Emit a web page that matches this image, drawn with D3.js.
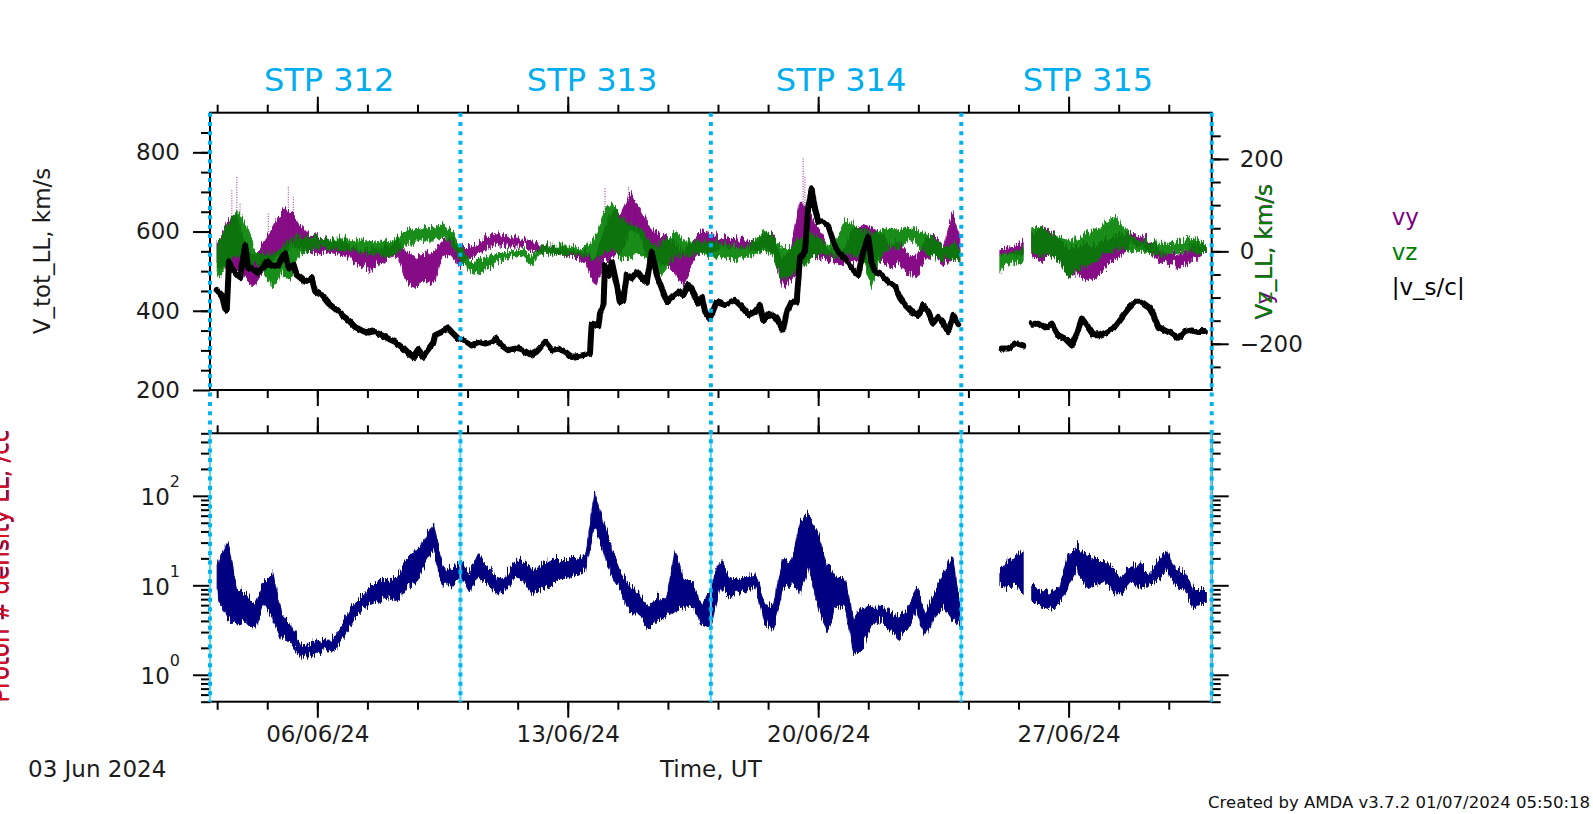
<!DOCTYPE html>
<html><head><meta charset="utf-8">
<script src="https://cdn.jsdelivr.net/npm/d3@7"></script>
<style>
html,body{margin:0;padding:0;background:#fff;}
svg{display:block;}
text{font-family:"DejaVu Sans",sans-serif;}
</style></head><body>
<svg id="c" width="1593" height="814"></svg>
<script>
// ---------------- DATA (days since 03 Jun 2024 00:00 UT) ----------------
const stpLabels = ["STP 312","STP 313","STP 314","STP 315"];
const stpLabelDay = [3.33, 10.68, 17.64, 24.54];
const stpBounds = [0, 7, 14, 21, 28];

// |v_s/c| (left axis, km/s), null = data gap
const vAbsT = [0.19,0.33,0.42,0.47,0.53,0.61,0.75,0.84,0.98,1.07,1.16,1.35,1.49,1.58,1.72,1.91,2.10,2.19,2.33,2.42,
 2.66,2.84,2.94,3.12,3.31,3.49,3.68,3.87,4.05,4.24,4.43,4.61,4.80,4.99,5.17,5.36,5.55,5.68,5.82,5.96,
 6.10,6.24,6.29,6.48,6.66,6.80,6.94,7.18,7.32,7.50,7.69,7.87,8.01,8.15,8.34,8.53,8.71,8.95,9.13,9.37,
 9.55,9.74,9.93,10.11,10.39,10.62,10.67,10.86,10.90,11.00,11.04,11.14,11.23,11.37,11.46,11.56,11.65,11.79,11.93,12.07,
 12.21,12.35,12.49,12.63,12.77,12.91,13.09,13.23,13.37,13.51,13.65,13.75,13.84,13.98,14.16,14.39,14.67,14.86,15.05,15.23,
 15.37,15.46,15.65,15.84,16.02,16.12,16.26,16.40,16.49,16.63,16.72,16.82,16.91,17.00,17.14,17.28,17.42,17.56,17.75,17.93,
 18.12,18.26,18.40,18.49,18.59,18.77,18.96,19.15,19.29,19.43,19.61,19.80,19.94,20.08,20.22,20.36,20.50,20.64,20.78,20.92,
 21.5,22.13,22.31,22.55,22.73,22.85,22.97,23.15,23.34,23.53,23.71,23.90,24.09,24.23,24.37,24.51,24.69,24.88,25.07,25.25,
 25.39,25.53,25.67,25.86,26.04,26.23,26.37,26.51,26.69,26.88,27.07,27.26,27.44,27.63,27.81];
const vAbs = [455,442,408,404,527,510,493,485,569,510,510,497,510,527,514,518,548,510,518,493,
 476,485,451,442,421,408,392,379,362,353,345,349,341,332,324,311,294,283,303,286,
 303,320,341,349,358,345,332,324,315,324,320,324,332,315,303,307,303,290,299,324,
 303,307,299,286,290,294,370,366,396,417,518,493,527,468,425,430,493,485,501,485,
 476,552,493,459,425,438,451,442,468,447,421,438,400,383,425,417,430,413,392,400,
 417,379,396,383,353,400,425,425,535,552,662,709,662,628,628,616,578,552,535,510,
 493,552,590,527,501,493,476,463,434,417,400,392,417,400,370,387,370,349,392,366,
 null,307,307,320,315,null,370,370,358,370,341,332,315,345,383,366,341,341,349,358,
 375,392,408,425,425,413,392,362,353,345,332,349,353,349,349];

// vy, vz (right axis, km/s) and proton density (/cc): envelope of the dense point cloud
const bandT = [0.2,0.25,0.5,0.75,1.0,1.25,1.5,1.75,2.0,2.25,
 2.5,2.75,3.0,3.25,3.5,3.75,4.0,4.25,4.5,4.75,
 5.0,5.25,5.5,5.75,6.0,6.25,6.5,6.75,7.0,7.25,
 7.5,7.75,8.0,8.25,8.5,8.75,9.0,9.25,9.5,9.75,
 10.0,10.25,10.5,10.75,11.0,11.25,11.5,11.75,12.0,12.25,
 12.5,12.75,13.0,13.25,13.5,13.75,14.0,14.25,14.5,14.75,
 15.0,15.25,15.5,15.75,16.0,16.25,16.5,16.75,17.0,17.25,
 17.5,17.75,18.0,18.25,18.5,18.75,19.0,19.25,19.5,19.75,
 20.0,20.25,20.5,20.75,20.96,21.5,22.08,22.25,22.5,22.73,
 22.85,22.97,23.25,23.5,23.75,24.0,24.25,24.5,24.75,25.0,
 25.25,25.5,25.75,26.0,26.25,26.5,26.75,27.0,27.25,27.5,
 27.75,27.85];
const vyHi = [31,31,74,89,17,-5,31,60,89,96,
 67,46,38,35,31,27,17,9,13,17,
 20,31,2,-5,2,9,31,31,17,17,
 24,38,49,38,35,35,27,20,20,17,
 13,9,9,-12,53,96,89,132,103,67,
 46,38,24,9,31,53,46,35,33,31,
 31,27,46,38,-12,17,120,89,60,17,
 2,17,60,67,60,46,17,31,2,-5,
 31,38,17,89,40,null,17,17,20,24,
 null,46,60,53,31,17,17,24,17,31,
 38,46,46,42,31,17,2,2,6,24,
 20,17];
const vyLo = [-20,-27,-34,-27,-48,-70,-34,-12,2,17,
 17,9,2,6,2,-1,-20,-27,-34,-20,
 -5,2,-63,-70,-56,-63,-5,2,-27,-5,
 2,17,24,20,20,20,9,6,6,2,
 -1,-9,-12,-70,-20,-5,2,53,46,-12,
 -20,-20,-41,-70,-12,9,2,20,18,17,
 17,9,17,2,-70,-56,-20,-5,-5,-12,
 -20,-20,-20,-20,-34,-12,-27,-20,-41,-48,
 -12,2,-27,-5,-12,null,2,2,2,2,
 null,-5,-12,-5,-12,-48,-41,-56,-48,-34,
 -12,2,24,20,9,-12,-23,-27,-23,-12,
 2,2];
const vzHi = [17,31,67,96,67,9,2,2,17,31,
 38,38,35,35,35,35,31,27,27,31,
 27,38,56,53,60,60,67,53,17,-12,
 -16,-5,2,6,9,13,-5,20,20,20,
 20,17,17,31,89,111,74,67,60,31,
 17,31,46,31,31,27,31,24,20,17,
 17,31,53,31,17,17,31,53,31,24,
 31,74,67,53,46,53,60,53,60,53,
 46,31,17,24,17,null,2,2,9,17,
 null,60,60,46,38,31,31,46,53,67,
 81,67,38,31,27,24,24,27,31,35,
 27,20];
const vzLo = [-41,-48,-20,2,-12,-20,-34,-70,-41,-56,
 2,9,17,17,13,13,9,6,2,2,
 -5,9,24,24,31,31,38,24,-12,-34,
 -38,-30,-20,-9,-5,-1,-23,2,2,2,
 2,2,-1,-12,2,17,-12,-5,2,-12,
 -56,-27,-5,-5,2,6,-5,-5,-9,-12,
 -5,2,9,-5,-56,-41,-27,-12,2,2,
 -5,2,-5,-12,-70,-5,17,17,31,24,
 2,-5,-12,-5,-12,null,-34,-27,-20,-12,
 null,2,2,-5,-12,-48,-34,-27,-12,2,
 9,17,9,9,6,2,2,6,9,6,
 2,2];
const denHi = [17.8,21,35,9.7,8.9,6.8,11.5,14.9,5.3,4.1,
 2.4,2.3,2.6,2.7,2.7,4.5,6.8,8.2,10.6,12.6,
 12.6,13.7,21,27,35,55,17.8,16.3,19.5,14.9,
 25,17.8,13.7,12.6,19.5,19.5,16.3,17.8,21,21,
 21,21,23,119,55,27,14.9,10.6,8.9,6.3,
 8.2,7.5,27,12.6,11.5,6.8,10.6,21,13.7,12.6,
 13.7,14.9,6.8,6.3,21,19.5,59,65,42,17.8,
 13.7,12.6,4.5,6.3,6.3,6.3,5.3,4.9,5.8,10.6,
 5.3,8.9,14.9,23,6.8,null,16.3,19.5,23,27,
 null,10.6,8.9,8.9,10.6,25,30,23,21,21,
 16.3,13.7,17.8,17.8,14.9,19.5,27,16.3,14.9,9.7,
 9.7,9.7];
const denLo = [9.7,7.5,4.5,4.1,4.5,3.5,6.8,4.5,2.7,2.7,
 1.7,1.7,1.9,2.1,2.1,2.9,4.5,5.8,6.8,7.5,
 8.2,7.5,10.6,11.5,17.8,27,10.6,10.6,13.7,8.9,
 13.7,11.5,8.9,8.9,13.7,12.6,8.9,9.7,10.6,12.6,
 13.7,14.9,16.3,50,25,13.7,8.9,5.3,5.3,3.5,
 4.5,4.9,5.8,6.3,6.3,4.1,3.7,10.6,8.2,8.9,
 9.7,10.6,4.1,3.5,9.7,11.5,8.9,17.8,6.3,3.2,
 6.3,6.3,1.9,2.2,4.1,4.5,3.5,2.7,3.5,5.8,
 2.9,4.9,6.3,4.5,4.1,null,11.5,9.7,10.6,8.9,
 null,7.5,6.3,5.8,6.8,10.6,16.3,10.6,11.5,12.6,
 8.9,8.9,11.5,10.6,10.6,12.6,16.3,10.6,9.7,5.8,
 6.8,7.5];
// sparse vy outliers above the dense band
const vySpikeT = [0.61,0.75,0.84,1.63,2.19,2.33,11.04,11.7,11.88,16.58,16.63,20.78];
const vySpikeTop = [132,161,103,82,140,118,136,140,111,201,161,89];

// axis ticks
const vTicks = [200,400,600,800];
const wTicks = [-200,0,200];
const nTicks = [1,10,100];
const nTickExp = ["0","1","2"];
const legendLabels = ["vy","vz","|v_s/c|"];

// ---------------- LAYOUT ----------------
const L=210, R=1211.7, top1=112.7, bot1=390, top2=433.3, bot2=701.7;
const t0 = Date.UTC(2024,5,3);
const toDate = d => new Date(t0 + d*864e5);
const x = d3.scaleUtc().domain([toDate(0), toDate(28)]).range([L, R]);
const yV = d3.scaleLinear([200,900],[bot1,top1]);
const yW = d3.scaleLinear([-300,300],[bot1,top1]);
const yN = d3.scaleLog([0.5,500],[bot2,top2]);
const cPurple="#800080", cGreen="#008000", cNavy="#000080", cStp="#00B2EE", cTxt="#1c1c1c";
const FS=23;

const svg = d3.select("#c");
const defs = svg.append("defs");
defs.append("clipPath").attr("id","cp1").append("rect").attr("x",L).attr("y",top1).attr("width",R-L).attr("height",bot1-top1);
defs.append("clipPath").attr("id","cp2").append("rect").attr("x",L).attr("y",top2).attr("width",R-L).attr("height",bot2-top2);
// rendering texture: vertical-only jitter so bands read like dense point clouds
function jitterFilter(id, fx, fy, scale, seed){
  const f = defs.append("filter").attr("id",id).attr("x","-2%").attr("y","-30%").attr("width","104%").attr("height","160%");
  f.append("feTurbulence").attr("type","turbulence").attr("baseFrequency",`${fx} ${fy}`).attr("numOctaves",2).attr("seed",seed).attr("result","n");
  f.append("feColorMatrix").attr("in","n").attr("type","matrix")
   .attr("values","0 0 0 0 0.5  0 1 0 0 0  0 0 1 0 0  0 0 0 0 1").attr("result","m");
  f.append("feDisplacementMap").attr("in","SourceGraphic").attr("in2","m").attr("scale",scale)
   .attr("xChannelSelector","R").attr("yChannelSelector","G");
}
jitterFilter("jb", 0.45, 0.04, 14, 3);
jitterFilter("jl", 0.12, 0.05, 4, 7);

const idx = d3.range(bandT.length);
function band(g, hi, lo, y, color, op){
  const area = d3.area().defined(i => hi[i]!=null && lo[i]!=null)
    .x(i => x(toDate(bandT[i]))).y0(i => y(lo[i])).y1(i => y(hi[i]));
  g.append("path").attr("d", area(idx)).attr("fill", color).attr("stroke", color)
   .attr("stroke-width", 1).attr("stroke-linejoin","round").attr("opacity",op)
   .attr("filter","url(#jb)");
}

// ---- Panel 1 data
const g1 = svg.append("g").attr("clip-path","url(#cp1)");
band(g1, vyHi, vyLo, yW, cPurple, 0.95);
g1.selectAll("line.sp").data(d3.range(vySpikeT.length)).join("line")
  .attr("x1", i => x(toDate(vySpikeT[i]))).attr("x2", i => x(toDate(vySpikeT[i])))
  .attr("y1", i => yW(vySpikeTop[i])).attr("y2", yW(20))
  .attr("stroke", cPurple).attr("stroke-width",1.2).attr("stroke-dasharray","1,1.5").attr("opacity",0.7);
band(g1, vzHi, vzLo, yW, cGreen, 0.9);
const vLine = d3.line().defined(i => vAbs[i]!=null).x(i => x(toDate(vAbsT[i]))).y(i => yV(vAbs[i]));
g1.append("path").attr("d", vLine(d3.range(vAbsT.length))).attr("fill","none")
  .attr("stroke","#000").attr("stroke-width",6).attr("stroke-linejoin","round").attr("stroke-linecap","round")
  .attr("filter","url(#jl)");

// ---- Panel 2 data
const g2 = svg.append("g").attr("clip-path","url(#cp2)");
band(g2, denHi, denLo, yN, cNavy, 1);

// ---------------- AXES ----------------
function axis(fn, scale, tr, values, size, fmt, pad){
  const a = fn(scale).tickValues(values).tickSize(size).tickSizeOuter(0)
    .tickPadding(pad==null?3:pad).tickFormat(fmt||"");
  const g = svg.append("g").attr("transform", tr).call(a);
  g.select(".domain").remove();
  g.selectAll("line").attr("stroke","#000").attr("stroke-width",2);
  g.selectAll("text").attr("font-size",FS).attr("font-family","DejaVu Sans").attr("fill",cTxt);
  return g;
}
const minorDays = d3.range(20).map(k => 0.2 + 1.4*k).filter(d => d < 28);
const majorDays = [3,10,17,24];
const minorDates = minorDays.map(toDate), majorDates = majorDays.map(toDate);
// time axes
axis(d3.axisTop, x, `translate(0,${top1})`, minorDates, 8);
axis(d3.axisTop, x, `translate(0,${top1})`, majorDates, 16);
axis(d3.axisBottom, x, `translate(0,${bot1})`, minorDates, 8);
axis(d3.axisBottom, x, `translate(0,${bot1})`, majorDates, 16);
axis(d3.axisTop, x, `translate(0,${top2})`, minorDates, 8);
axis(d3.axisTop, x, `translate(0,${top2})`, majorDates, 16);
axis(d3.axisBottom, x, `translate(0,${bot2})`, minorDates, 8);
const xb = axis(d3.axisBottom, x, `translate(0,${bot2})`, majorDates, 16, d3.utcFormat("%d/%m/%y"), 8);
xb.selectAll("text").attr("dy","0.71em");

// left |v| axis
axis(d3.axisLeft, yV, `translate(${L},0)`, d3.range(250,900,50), 9);
axis(d3.axisLeft, yV, `translate(${L},0)`, vTicks, 17, d3.format("d"), 13);
// right vy/vz axis
axis(d3.axisRight, yW, `translate(${R},0)`, d3.range(-250,300,50), 9);
axis(d3.axisRight, yW, `translate(${R},0)`, wTicks, 17, d3.format("d"), 11);
// log density axes
const nMinor = [];
[0.1,1,10,100].forEach(b => { for (let m=2;m<=9;m++){ const v=b*m; if (v>=0.5 && v<=500) nMinor.push(v);} });
axis(d3.axisLeft, yN, `translate(${L},0)`, nMinor, 9);
axis(d3.axisLeft, yN, `translate(${L},0)`, nTicks, 17);
axis(d3.axisRight, yN, `translate(${R},0)`, nMinor, 9);
axis(d3.axisRight, yN, `translate(${R},0)`, nTicks, 17);
nTicks.forEach((v,i) => {
  const t = svg.append("text").attr("x",180).attr("y",yN(v)+9.5).attr("text-anchor","end")
    .attr("font-size",FS).attr("fill",cTxt).text("10");
  t.append("tspan").attr("dy",-18).attr("font-size",16).text(nTickExp[i]);
});

// frames
[[top1,bot1],[top2,bot2]].forEach(([a,b]) => {
  svg.append("rect").attr("x",L).attr("y",a).attr("width",R-L).attr("height",b-a)
    .attr("fill","none").attr("stroke","#000").attr("stroke-width",2);
});

// STP boundaries
stpBounds.forEach(d => {
  const xx = x(toDate(d));
  svg.append("line").attr("x1",xx).attr("x2",xx).attr("y1",top2).attr("y2",bot2)
    .attr("stroke","#4FDDF5").attr("stroke-width",2);
  svg.append("line").attr("x1",xx).attr("x2",xx).attr("y1",top1).attr("y2",bot2)
    .attr("stroke",cStp).attr("stroke-width",4).attr("stroke-dasharray","4,5.33");
});
stpLabels.forEach((s,i) => {
  svg.append("text").attr("x", x(toDate(stpLabelDay[i]))).attr("y",90.7).attr("text-anchor","middle")
    .attr("font-family","Liberation Sans, Arial, sans-serif").attr("font-size",32).attr("fill","#00AEEF").text(s);
});

// axis titles
svg.append("text").attr("transform","translate(50,251) rotate(-90)").attr("text-anchor","middle")
  .attr("font-size",FS).attr("fill",cTxt).text("V_tot_LL, km/s");
svg.append("text").attr("transform","translate(1271.5,251.7) rotate(-90)").attr("text-anchor","middle")
  .attr("font-size",FS).attr("fill",cPurple).text("Vy_LL, km/s");
svg.append("text").attr("transform","translate(1271.5,251.7) rotate(-90)").attr("text-anchor","middle")
  .attr("font-size",FS).attr("fill",cGreen).text("Vz_LL, km/s");
svg.append("text").attr("transform","translate(7.5,566) rotate(-90)").attr("text-anchor","middle")
  .attr("font-size",FS).attr("fill",cNavy).text("Proton # density LL, /cc");
svg.append("text").attr("transform","translate(8.5,566) rotate(-90)").attr("text-anchor","middle")
  .attr("font-size",FS).attr("fill","#E0101E").text("Proton # density LL, /cc");

// legend
const legCol = [cPurple, cGreen, "#000"];
const legY = [225, 260, 295];
legendLabels.forEach((s,i) => {
  svg.append("text").attr("x",1391.7).attr("y",legY[i]).attr("font-size",FS).attr("fill",legCol[i]).text(s);
});

// footer texts
svg.append("text").attr("x",28).attr("y",777).attr("font-size",FS).attr("fill",cTxt).text("03 Jun 2024");
svg.append("text").attr("x",(L+R)/2).attr("y",777).attr("text-anchor","middle").attr("font-size",FS).attr("fill",cTxt).text("Time, UT");
svg.append("text").attr("x",1590).attr("y",808).attr("text-anchor","end").attr("font-size",16.5).attr("fill","#111")
  .text("Created by AMDA v3.7.2 01/07/2024 05:50:18");
</script></body></html>
